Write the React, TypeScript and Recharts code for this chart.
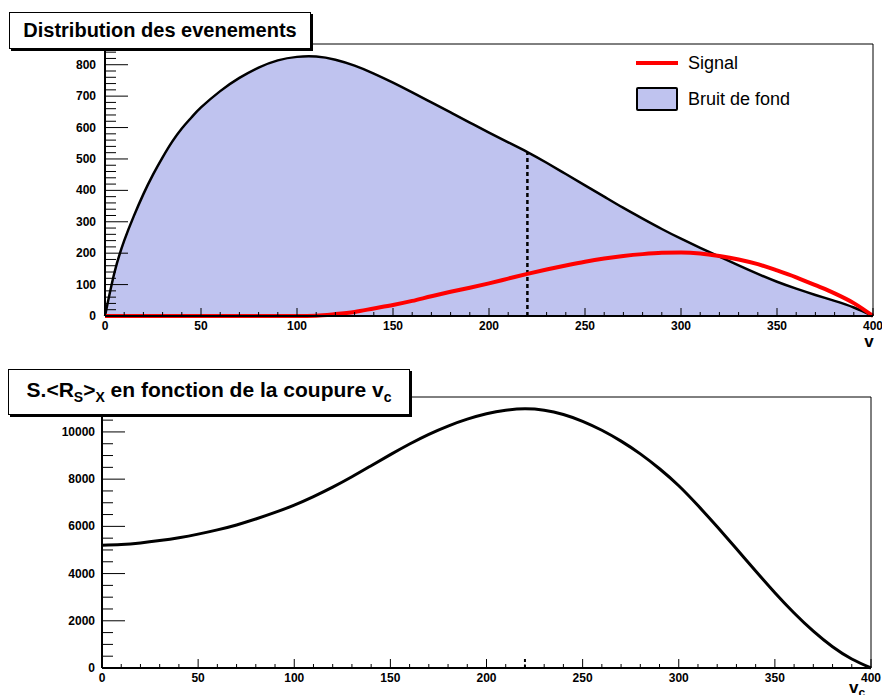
import React from 'react';
import { ComposedChart, Area, Line, XAxis, YAxis, ReferenceLine, Legend } from 'recharts';

const FONT = '"Liberation Sans", Arial, Helvetica, sans-serif';

// Top panel: event distributions vs v
const vValues = [
  0, 5, 10, 15, 20, 25, 30, 35, 40, 45, 50, 60, 70, 80, 90, 100, 110, 120, 130, 140, 150,
  160, 170, 180, 190, 200, 210, 220, 230, 240, 250, 260, 270, 280, 290, 300, 310, 320, 330,
  340, 350, 360, 370, 380, 390, 400,
];
const backgroundValues = [
  0, 140, 240, 318, 388, 450, 505, 555, 597, 632, 664, 716, 758, 791, 814, 825, 826, 816, 797,
  772, 743, 712, 680, 648, 616, 584, 553, 522, 488, 452, 416, 380, 344, 310, 277, 246, 217, 189,
  161, 134, 109, 87, 67, 48, 27, 0,
];
const signalValues = [
  0, 0, 0, 0, 0, 0, 0, 0, 0, 0, 0, 0, 0, 0, 0, 0, 1, 6, 13, 24, 35, 48, 63, 77, 90, 104, 119,
  134, 148, 161, 173, 183, 191, 197, 201, 202, 199, 191, 180, 165, 145, 123, 98, 72, 41, 0,
];

// Bottom panel: S.<Rs>x vs cut vc
const vcValues = [
  0, 10, 20, 30, 40, 50, 60, 70, 80, 90, 100, 110, 120, 130, 140, 150, 160, 170, 180, 190, 200,
  210, 220, 230, 240, 250, 260, 270, 280, 290, 300, 310, 320, 330, 340, 350, 360, 370, 380, 390, 400,
];
const meritValues = [
  5200, 5230, 5300, 5400, 5520, 5670, 5850, 6060, 6310, 6590, 6900, 7260, 7660, 8100, 8570, 9040,
  9490, 9900, 10250, 10540, 10770, 10920, 10980, 10920, 10740, 10450, 10070, 9610, 9070, 8440,
  7720, 6880, 5980, 5050, 4110, 3190, 2330, 1560, 900, 380, 0,
];

const cutValue = 220;
const bottomCutMarkTop = 500;

const xMajorTicks = [0, 50, 100, 150, 200, 250, 300, 350, 400];
const topYLabels = [0, 100, 200, 300, 400, 500, 600, 700, 800];
const bottomYLabels = [0, 2000, 4000, 6000, 8000, 10000];
const TOP_Y_MAX = 866;
const BOTTOM_Y_MAX = 11480;

const xTicks = Array.from({ length: 41 }, (_, i) => i * 10);
const topYTicks = Array.from({ length: 44 }, (_, i) => i * 20);
const bottomYTicks = Array.from({ length: 23 }, (_, i) => i * 500);

const topData = vValues.map((v, i) => ({ v, bg: backgroundValues[i], sig: signalValues[i] }));
const bottomData = vcValues.map((v, i) => ({ v, fom: meritValues[i] }));
const cutBackground = backgroundValues[vValues.indexOf(cutValue)];

const XTick = (props: any) => {
  const { x, y, payload, majorLen, minorLen } = props;
  const v = payload.value;
  const major = xMajorTicks.includes(v);
  return (
    <g>
      <line x1={x} x2={x} y1={y} y2={y - (major ? majorLen : minorLen)} stroke="#000" strokeWidth={1} />
      {major && (
        <text x={x} y={y + 14} textAnchor="middle" fontFamily={FONT} fontWeight="bold" fontSize={12} fill="#000">
          {v}
        </text>
      )}
    </g>
  );
};

const YTick = (props: any) => {
  const { x, y, payload, labels, gap } = props;
  const v = payload.value;
  const major = labels.includes(v);
  return (
    <g>
      <line x1={x} x2={x + (major ? 23 : 11)} y1={y} y2={y} stroke="#000" strokeWidth={1} />
      {major && (
        <text x={x - gap} y={y + 4} textAnchor="end" fontFamily={FONT} fontWeight="bold" fontSize={12} fill="#000">
          {v}
        </text>
      )}
    </g>
  );
};

const TopLegend = () => (
  <div style={{ fontFamily: FONT, fontSize: 18, color: '#000' }}>
    <div style={{ display: 'flex', alignItems: 'center', height: 26 }}>
      <span style={{ display: 'inline-block', width: 42, height: 4, background: '#ff0000', marginRight: 10 }} />
      Signal
    </div>
    <div style={{ display: 'flex', alignItems: 'center', height: 30, marginTop: 8 }}>
      <span
        style={{
          display: 'inline-block', width: 38, height: 20, background: '#bfc3ef',
          border: '2px solid #000', borderRadius: 2, marginRight: 10,
        }}
      />
      Bruit de fond
    </div>
  </div>
);

const titleBox: React.CSSProperties = {
  position: 'absolute', background: '#fff', border: '1px solid #000', boxShadow: '2px 2px 0 #000',
  fontFamily: FONT, fontWeight: 'bold', color: '#000', display: 'flex', alignItems: 'center',
  justifyContent: 'center', boxSizing: 'border-box', whiteSpace: 'nowrap',
};

const App: React.FC = () => {
  return (
    <div style={{ position: 'absolute', left: 0, top: 0, width: 882, height: 695, background: '#fff', overflow: 'hidden' }}>
      <div style={{ position: 'absolute', left: 0, top: 0 }}>
        <ComposedChart width={882} height={350} data={topData} margin={{ top: 44, right: 9, bottom: 0, left: 0 }}>
          <XAxis
            type="number" dataKey="v" domain={[0, 400]} ticks={xTicks} interval={0}
            height={34} tickSize={0} tickMargin={0} tickLine={false}
            axisLine={{ stroke: '#000', strokeWidth: 2 }}
            tick={(p: any) => <XTick {...p} majorLen={8} minorLen={4} />}
            label={{
              content: (lp: any) => (
                <text x={lp.viewBox.x + lp.viewBox.width - 4} y={lp.viewBox.y + 31} textAnchor="middle"
                  fontFamily={FONT} fontWeight="bold" fontSize={17} fill="#000">v</text>
              ),
            }}
          />
          <YAxis
            type="number" domain={[0, TOP_Y_MAX]} ticks={topYTicks} interval={0}
            width={105} tickSize={0} tickMargin={0} tickLine={false}
            axisLine={{ stroke: '#000', strokeWidth: 2 }}
            tick={(p: any) => <YTick {...p} labels={topYLabels} gap={9} />}
          />
          <Area
            type="natural" dataKey="bg" name="Bruit de fond" stroke="#000" strokeWidth={2.5}
            fill="#bfc3ef" fillOpacity={1} isAnimationActive={false}
          />
          <ReferenceLine
            segment={[{ x: cutValue, y: 0 }, { x: cutValue, y: cutBackground }]}
            stroke="#000" strokeWidth={2.5} strokeDasharray="4 3"
          />
          <Line
            type="monotone" dataKey="sig" name="Signal" stroke="#ff0000" strokeWidth={4}
            dot={false} isAnimationActive={false}
          />
          <ReferenceLine y={TOP_Y_MAX} stroke="#000" strokeWidth={1} />
          <ReferenceLine x={400} stroke="#000" strokeWidth={1} />
          <Legend
            layout="vertical" align="center" verticalAlign="middle"
            wrapperStyle={{ left: 636, top: 50, width: 236 }}
            content={() => <TopLegend />}
          />
        </ComposedChart>
      </div>

      <div style={{ position: 'absolute', left: 0, top: 350 }}>
        <ComposedChart width={882} height={345} data={bottomData} margin={{ top: 47, right: 11, bottom: 0, left: 0 }}>
          <XAxis
            type="number" dataKey="v" domain={[0, 400]} ticks={xTicks} interval={0}
            height={27} tickSize={0} tickMargin={0} tickLine={false}
            axisLine={{ stroke: '#000', strokeWidth: 2 }}
            tick={(p: any) => <XTick {...p} majorLen={9} minorLen={4} />}
            label={{
              content: (lp: any) => (
                <text x={lp.viewBox.x + lp.viewBox.width - 14} y={lp.viewBox.y + 25} textAnchor="middle"
                  fontFamily={FONT} fontWeight="bold" fontSize={17} fill="#000">
                  v<tspan fontSize={12} dy={4}>c</tspan>
                </text>
              ),
            }}
          />
          <YAxis
            type="number" domain={[0, BOTTOM_Y_MAX]} ticks={bottomYTicks} interval={0}
            width={102} tickSize={0} tickMargin={0} tickLine={false}
            axisLine={{ stroke: '#000', strokeWidth: 2 }}
            tick={(p: any) => <YTick {...p} labels={bottomYLabels} gap={7} />}
          />
          <Line
            type="natural" dataKey="fom" stroke="#000" strokeWidth={3}
            dot={false} isAnimationActive={false}
          />
          <ReferenceLine
            segment={[{ x: cutValue, y: 0 }, { x: cutValue, y: bottomCutMarkTop }]}
            stroke="#000" strokeWidth={2} strokeDasharray="3 3"
          />
          <ReferenceLine y={BOTTOM_Y_MAX} stroke="#000" strokeWidth={1} />
          <ReferenceLine x={400} stroke="#000" strokeWidth={1} />
        </ComposedChart>
      </div>

      <div style={{ ...titleBox, left: 9, top: 12, width: 302, height: 37, fontSize: 20 }}>
        Distribution des evenements
      </div>
      <div style={{ ...titleBox, left: 8, top: 369, width: 402, height: 46, fontSize: 21 }}>
        <span>
          S.&lt;R<sub style={{ fontSize: 14 }}>S</sub>&gt;<sub style={{ fontSize: 14 }}>X</sub> en fonction de la coupure v
          <sub style={{ fontSize: 14 }}>c</sub>
        </span>
      </div>
    </div>
  );
};

export default App;
